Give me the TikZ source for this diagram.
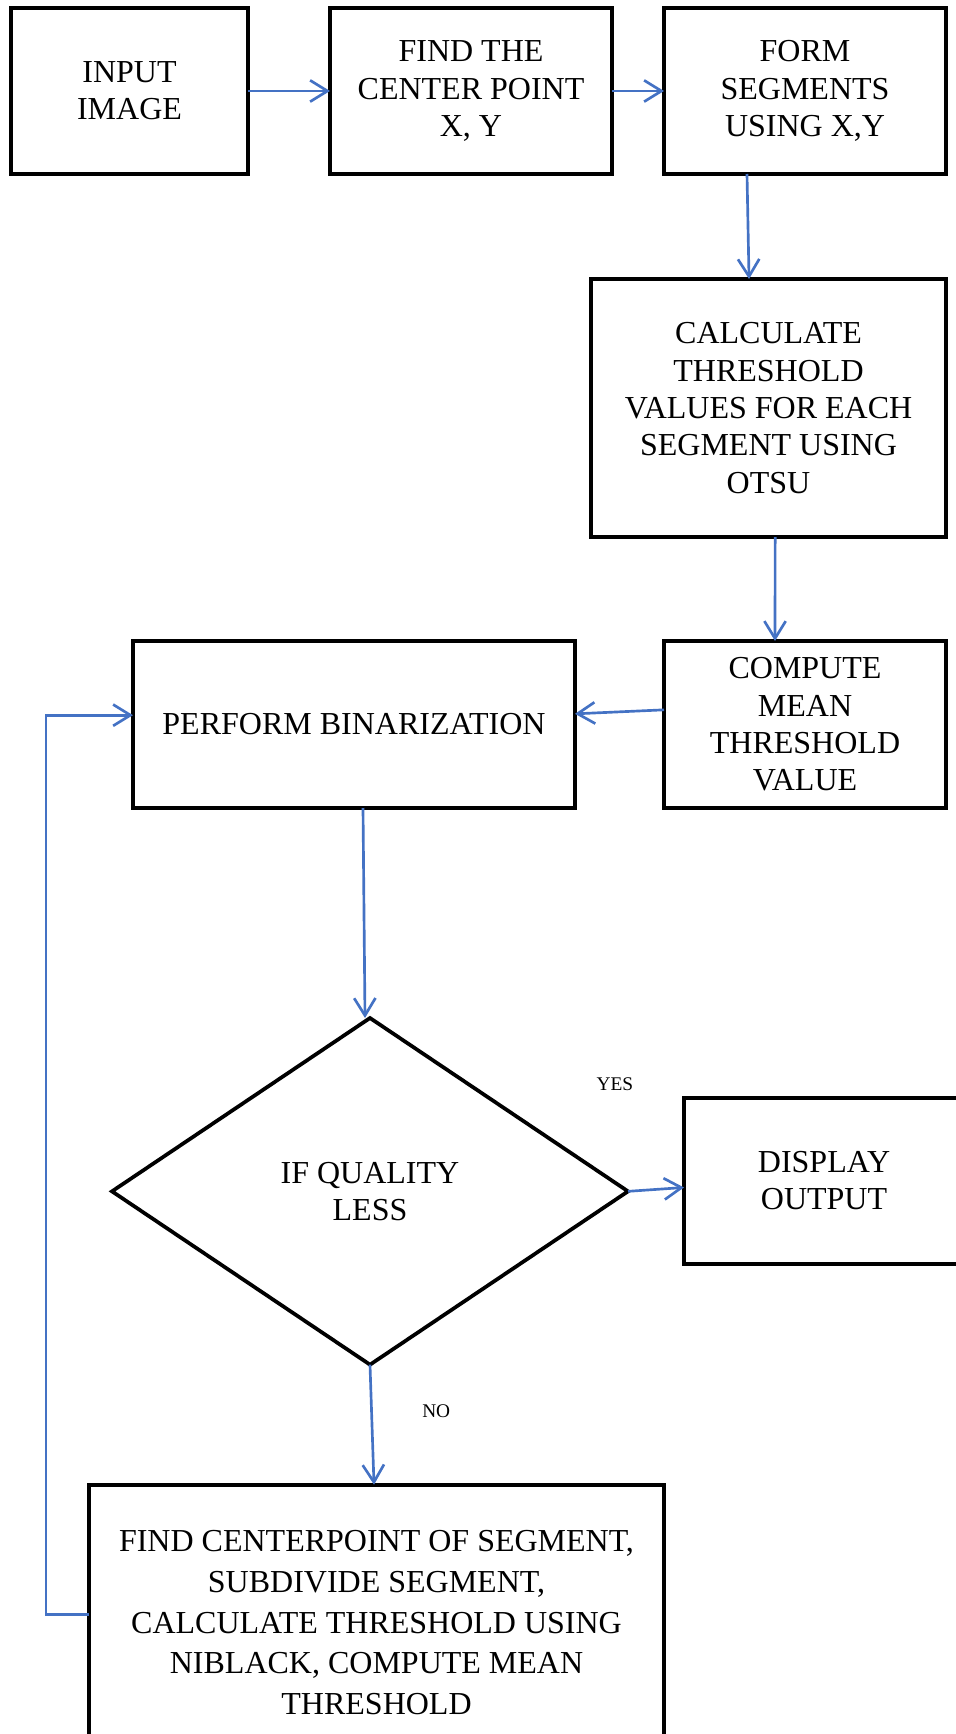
\documentclass[tikz,border=0pt]{standalone}
\usepackage{fontspec}
\setmainfont{Liberation Serif}
\usetikzlibrary{arrows.meta, positioning, shapes.geometric}
\definecolor{flowblue}{RGB}{68,114,196}

\begin{document}
\begin{tikzpicture}[
    >={Straight Barb[length=13pt, width=16pt]},
    box/.style={draw, line width=2.8pt, align=center, inner sep=2pt, outer sep=0pt, font=\fontsize{24}{28}\selectfont},
    arr/.style={->, line width=2pt, flowblue},
    lbl/.style={inner sep=0pt, font=\fontsize{14.5}{17}\selectfont},
]
    \useasboundingbox (0,0) rectangle (717pt,-1300.5pt);

    % top row
    \node[box, anchor=north west, minimum width=177.75pt, minimum height=124.5pt] (input) at (8.25pt,-6pt) {INPUT\\IMAGE};
    \node[box, minimum width=211.5pt, minimum height=124.5pt, right=61.5pt of input] (center) {FIND THE\\CENTER POINT\\X, Y};
    \node[box, minimum width=211.5pt, minimum height=124.5pt, right=39pt of center] (segments) {FORM\\SEGMENTS\\USING X,Y};

    % right column
    \node[box, minimum width=266.25pt, minimum height=193.5pt, below=78.75pt of segments.south east, anchor=north east] (otsu) {CALCULATE\\THRESHOLD\\VALUES FOR EACH\\SEGMENT USING\\OTSU};
    \node[box, minimum width=211.5pt, minimum height=125.25pt, below=78pt of otsu.south east, anchor=north east] (mean) {COMPUTE\\MEAN\\THRESHOLD\\VALUE};
    \node[box, minimum width=331.5pt, minimum height=125.25pt, left=66.75pt of mean] (binarize) {PERFORM BINARIZATION};

    % decision
    \node[box, diamond, inner sep=0pt, minimum width=387pt, minimum height=260pt, below=157.5pt of binarize, xshift=12pt] (quality) {IF QUALITY\\LESS};
    \node[box, minimum width=210pt, minimum height=124.5pt, right=42pt of quality, yshift=7.9pt] (display) {DISPLAY\\OUTPUT};
    \node[box, font=\fontsize{24}{30.5}\selectfont, minimum width=431.25pt, minimum height=207pt, below=90pt of quality, xshift=4.9pt] (niblack) {FIND CENTERPOINT OF SEGMENT,\\SUBDIVIDE SEGMENT,\\CALCULATE THRESHOLD USING\\NIBLACK, COMPUTE MEAN\\THRESHOLD};

    \node[lbl, above left=5pt and 38pt of display.north west] (yes) {YES};
    \node[lbl, below right=30pt and 39pt of quality.south] (no) {NO};

    % connectors
    \draw[arr] (input) -- (center);
    \draw[arr] (center) -- (segments);
    \draw[arr] ([xshift=-43.5pt]segments.south) -- ([xshift=-14.6pt]otsu.north);
    \draw[arr] ([xshift=5pt]otsu.south) -- ([xshift=-22.5pt]mean.north);
    \draw[arr] ([yshift=11pt]mean.west) -- ([yshift=8pt]binarize.east);
    \draw[arr] ([xshift=6.75pt]binarize.south) -- ([xshift=-3.75pt]quality.north);
    \draw[arr] (quality.east) -- ([yshift=-5pt]display.west);
    \draw[arr] (quality.south) -- ([xshift=-1.9pt]niblack.north);
    \draw[arr] ([yshift=6pt]niblack.west) -- ++(-32.25pt,0) |- ([yshift=7pt]binarize.west);
\end{tikzpicture}
\end{document}
